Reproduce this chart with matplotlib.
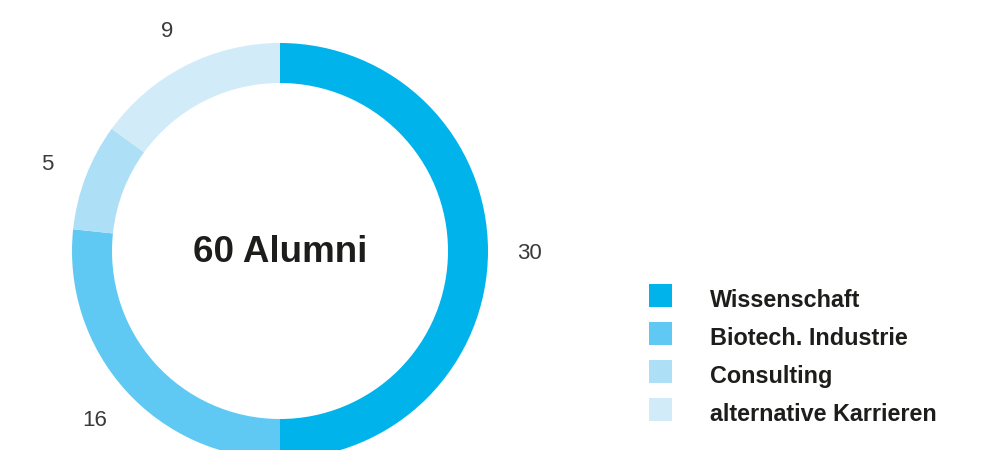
# Donut-Diagramm: Verbleib der Alumni

import matplotlib.pyplot as plt
from matplotlib.patches import Rectangle

categories = ['Wissenschaft', 'Biotech. Industrie', 'Consulting', 'alternative Karrieren']
values = [30, 16, 5, 9]
colors = ['#00b4eb', '#5fc9f3', '#addff6', '#d2ebf9']
center_text = f'{sum(values)} Alumni'

plt.rcParams['font.family'] = ['Liberation Sans', 'DejaVu Sans']

W, H = 986, 450
fig = plt.figure(figsize=(W / 100, H / 100), dpi=100)
ax = fig.add_axes([0, 0, 1, 1])

# Ring (Pixelkoordinaten, y von unten)
cx, cy, R, ring = 280, H - 251, 208, 40
ax.pie(values, colors=colors, startangle=90, counterclock=False,
       center=(cx, cy), radius=R, labels=[str(v) for v in values],
       labeldistance=1.2, wedgeprops=dict(width=ring, linewidth=0),
       textprops=dict(fontsize=16, color='#3a3a3a', ha='center',
                      va='center_baseline'))

ax.text(cx, cy - 2, center_text, ha='center', va='center',
        fontsize=26.5, color='#1d1d1b', fontweight='bold')

# Legende
for i, (name, col) in enumerate(zip(categories, colors)):
    y_bottom = H - (307 + i * 38)
    ax.add_patch(Rectangle((649, y_bottom), 23, 23, color=col, lw=0))
    ax.text(710, y_bottom, name, ha='left', va='baseline',
            fontsize=16.8, fontweight='bold', color='#1d1d1b')

ax.set_xlim(0, W)
ax.set_ylim(0, H)
ax.set_aspect('equal')
ax.axis('off')

plt.savefig('out.png', dpi=100)
